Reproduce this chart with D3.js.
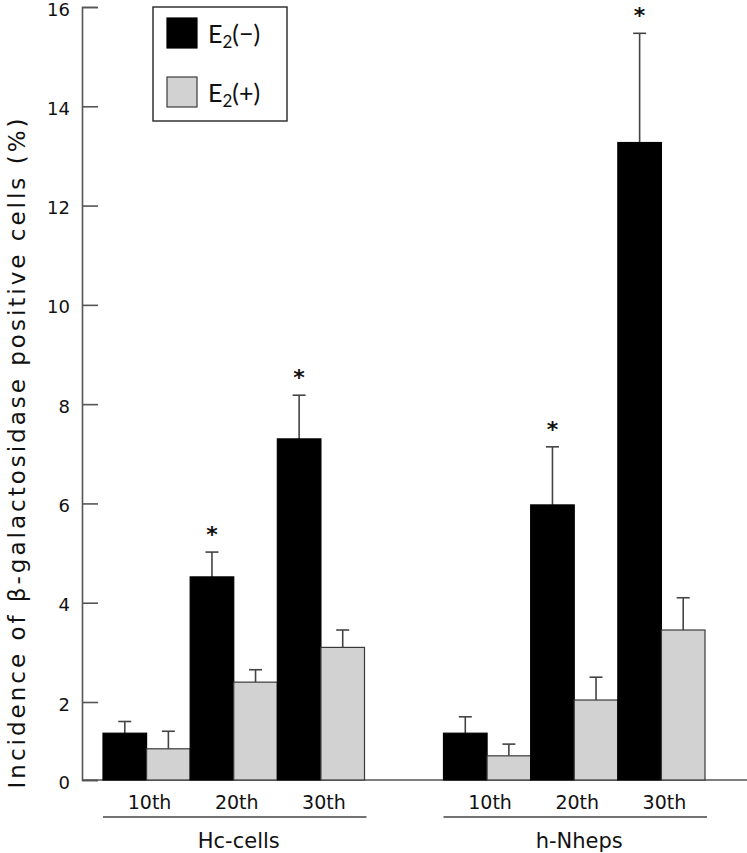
<!DOCTYPE html>
<html>
<head>
<meta charset="utf-8">
<script src="https://cdn.jsdelivr.net/npm/d3@7"></script>
<style>
  body { margin: 0; background: #fff; }
  svg { display: block; font-family: "DejaVu Sans", sans-serif; }
</style>
</head>
<body>
<div id="root"></div>
<script>
// data
var groups = ["Hc-cells", "h-Nheps"];
var passages = ["10th", "20th", "30th"];
var series = ["E2(-)", "E2(+)"];

var hcMinus = [1.2, 4.52, 7.3];
var hcPlus = [0.8, 2.4, 3.1];
var hcMinusErr = [0.3, 0.5, 0.88];
var hcPlusErr = [0.45, 0.25, 0.35];

var nhMinus = [1.2, 5.97, 13.27];
var nhPlus = [0.62, 2.04, 3.45];
var nhMinusErr = [0.42, 1.17, 2.2];
var nhPlusErr = [0.3, 0.46, 0.65];

// which bars get an asterisk
var hcStar = [false, true, true];
var nhStar = [false, true, true];

var yTicks = [0, 2, 4, 6, 8, 10, 12, 14, 16];

var rows = [];
passages.forEach(function (p, i) {
  rows.push({ group: groups[0], passage: p, s: series[0], v: hcMinus[i], e: hcMinusErr[i], star: hcStar[i] });
  rows.push({ group: groups[0], passage: p, s: series[1], v: hcPlus[i], e: hcPlusErr[i], star: false });
  rows.push({ group: groups[1], passage: p, s: series[0], v: nhMinus[i], e: nhMinusErr[i], star: nhStar[i] });
  rows.push({ group: groups[1], passage: p, s: series[1], v: nhPlus[i], e: nhPlusErr[i], star: false });
});

var W = 747, H = 853;
var axisX = 82, baseY = 780;

var svg = d3.select("#root").append("svg")
  .attr("width", W)
  .attr("height", H);

// the original axis squeezes the 0-2 step
var y = d3.scaleLinear()
  .domain([0, 2, 16])
  .range([baseY, 702, 7]);

var xGroup = d3.scaleBand()
  .domain(groups)
  .range([103, 705])
  .paddingInner(0.232);

var xPass = d3.scaleBand()
  .domain(passages)
  .range([0, xGroup.bandwidth()]);

var xSer = d3.scaleBand()
  .domain(series)
  .range([0, xPass.bandwidth()]);

var fill = d3.scaleOrdinal().domain(series).range(["#000", "#d2d2d2"]);
var stroke = d3.scaleOrdinal().domain(series).range(["#000", "#3a3a3a"]);

function bx(d) { return xGroup(d.group) + xPass(d.passage) + xSer(d.s); }

// y axis
var yAxis = d3.axisLeft(y)
  .tickValues(yTicks)
  .tickSize(-16)
  .tickPadding(12)
  .tickFormat(d3.format("d"));

var gy = svg.append("g")
  .attr("transform", "translate(" + axisX + ",0)")
  .call(yAxis);
gy.select(".domain").attr("stroke", "#555").attr("stroke-width", 1.6);
gy.selectAll(".tick line").attr("stroke", "#555").attr("stroke-width", 1.6);
gy.selectAll(".tick text")
  .attr("font-size", 18)
  .attr("dy", "0.45em")
  .attr("fill", "#111")
  .attr("font-family", "DejaVu Sans, sans-serif");

// baseline
svg.append("line")
  .attr("x1", axisX).attr("x2", W)
  .attr("y1", y(0)).attr("y2", y(0))
  .attr("stroke", "#555")
  .attr("stroke-width", 1.6);

// error bars (drawn first so bar tops cover the stem)
var eb = svg.append("g").selectAll("g.err")
  .data(rows)
  .join("g")
  .attr("class", "err");

eb.append("line")
  .attr("x1", function (d) { return bx(d) + xSer.bandwidth() / 2; })
  .attr("x2", function (d) { return bx(d) + xSer.bandwidth() / 2; })
  .attr("y1", function (d) { return y(d.v); })
  .attr("y2", function (d) { return y(d.v + d.e); })
  .attr("stroke", "#444")
  .attr("stroke-width", 1.6);

eb.append("line")
  .attr("x1", function (d) { return bx(d) + xSer.bandwidth() / 2 - 6.5; })
  .attr("x2", function (d) { return bx(d) + xSer.bandwidth() / 2 + 6.5; })
  .attr("y1", function (d) { return y(d.v + d.e); })
  .attr("y2", function (d) { return y(d.v + d.e); })
  .attr("stroke", "#444")
  .attr("stroke-width", 1.6);

// bars
svg.append("g").selectAll("rect")
  .data(rows)
  .join("rect")
  .attr("x", bx)
  .attr("width", xSer.bandwidth())
  .attr("y", function (d) { return y(d.v); })
  .attr("height", function (d) { return y(0) - y(d.v); })
  .attr("fill", function (d) { return fill(d.s); })
  .attr("stroke", function (d) { return stroke(d.s); })
  .attr("stroke-width", 1.2);

// significance stars
svg.append("g").selectAll("text")
  .data(rows.filter(function (d) { return d.star; }))
  .join("text")
  .attr("x", function (d) { return bx(d) + xSer.bandwidth() / 2; })
  .attr("y", function (d) { return y(d.v + d.e) - 10; })
  .attr("text-anchor", "middle")
  .attr("font-size", 22)
  .attr("font-weight", "bold")
  .attr("fill", "#111")
  .text("*");

// passage labels
groups.forEach(function (g) {
  svg.append("g").selectAll("text")
    .data(passages)
    .join("text")
    .attr("x", function (p) { return xGroup(g) + xPass(p) + xPass.bandwidth() / 2 + 3; })
    .attr("y", 809)
    .attr("text-anchor", "middle")
    .attr("font-size", 19)
    .attr("fill", "#111")
    .text(function (p) { return p; });

  svg.append("line")
    .attr("x1", xGroup(g))
    .attr("x2", xGroup(g) + xGroup.bandwidth() + 2)
    .attr("y1", 817).attr("y2", 817)
    .attr("stroke", "#444")
    .attr("stroke-width", 1.4);

  svg.append("text")
    .attr("x", xGroup(g) + xGroup.bandwidth() / 2 + 5)
    .attr("y", 848)
    .attr("text-anchor", "middle")
    .attr("font-size", 21)
    .attr("fill", "#111")
    .text(g);
});

// y label
svg.append("text")
  .attr("transform", "translate(25," + 452 + ") rotate(-90)")
  .attr("text-anchor", "middle")
  .attr("font-size", 23)
  .attr("letter-spacing", 3)
  .attr("fill", "#111")
  .text("Incidence of β-galactosidase positive cells (%)");

// legend
var leg = svg.append("g").attr("transform", "translate(153,7)");
leg.append("rect")
  .attr("width", 134).attr("height", 114)
  .attr("fill", "#fff")
  .attr("stroke", "#333")
  .attr("stroke-width", 1.5);

var legItems = leg.selectAll("g.item")
  .data(series)
  .join("g")
  .attr("class", "item")
  .attr("transform", function (d, i) { return "translate(14," + (11 + i * 59) + ")"; });

legItems.append("rect")
  .attr("width", 30).attr("height", 30)
  .attr("fill", function (d) { return fill(d); })
  .attr("stroke", function (d) { return stroke(d); })
  .attr("stroke-width", 1.2);

var lt = legItems.append("text")
  .attr("x", 41)
  .attr("y", 25)
  .attr("font-size", 25)
  .attr("font-family", "Lato, sans-serif")
  .attr("fill", "#111");
lt.append("tspan").text("E");
lt.append("tspan").attr("font-size", 17).attr("dy", 5).text("2");
lt.append("tspan").attr("dy", -5).text(function (d) { return d === series[0] ? "(\u2212)" : "(+)"; });
</script>
</body>
</html>
